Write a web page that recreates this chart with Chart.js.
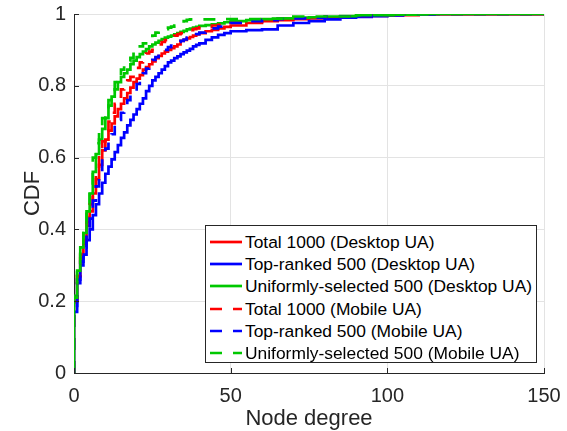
<!DOCTYPE html>
<html>
<head>
<meta charset="utf-8">
<script src="https://cdn.jsdelivr.net/npm/chart.js@4.4.1/dist/chart.umd.min.js"></script>
<style>
  html, body { margin: 0; padding: 0; background: #fff; }
  #wrap { position: relative; width: 567px; height: 431px; }
  #legend {
    position: absolute; left: 205px; top: 225px; width: 330px; height: 136px;
    border: 1px solid #262626; background: #fff;
    font-family: "Liberation Sans", Arial, sans-serif; font-size: 17.4px; color: #000;
  }
  .row { position: absolute; left: 0; height: 22px; line-height: 22px; white-space: nowrap; }
  .row svg { position: absolute; left: 4px; top: 9px; }
  .row span { position: absolute; left: 39px; top: 0; }
</style>
</head>
<body>
<div id="wrap">
  <canvas id="c1" width="567" height="431"></canvas>
  <div id="legend"></div>
</div>
<script>
// node degree at which each CDF value is read (first pair draws the jump at 0)
var degrees = [0, 0, 1, 2, 3, 4, 5, 6, 7, 8, 9, 10, 11, 12, 13, 14, 15, 16, 17, 18, 19, 20,
  21, 22, 23, 24, 25, 26, 27, 28, 29, 30, 31, 32, 33, 34, 35, 36, 37, 38, 39, 40,
  42, 44, 46, 48, 50, 55, 60, 65, 70, 75, 80, 85, 90, 95, 100, 105, 110, 115, 120, 150];

var totalDesktop = [0, 0.20, 0.27, 0.32, 0.36, 0.41, 0.45, 0.50, 0.54, 0.58, 0.62, 0.65, 0.675, 0.695, 0.715, 0.735,
  0.75, 0.765, 0.78, 0.795, 0.81, 0.82, 0.83, 0.845, 0.852, 0.86, 0.868, 0.877, 0.883, 0.89, 0.895, 0.9,
  0.905, 0.91, 0.915, 0.925, 0.928, 0.932, 0.936, 0.94, 0.943, 0.947,
  0.952, 0.956, 0.96, 0.964, 0.968, 0.975, 0.98, 0.983, 0.986, 0.988, 0.99, 0.992, 0.993, 0.995, 0.996, 0.997, 0.998, 0.999, 0.999, 1];

var topDesktop = [0, 0.17, 0.25, 0.30, 0.33, 0.37, 0.40, 0.44, 0.47, 0.50, 0.53, 0.555, 0.575, 0.595, 0.615, 0.635,
  0.655, 0.67, 0.69, 0.705, 0.72, 0.735, 0.75, 0.765, 0.785, 0.80, 0.815, 0.825, 0.835, 0.845, 0.855, 0.865,
  0.87, 0.877, 0.882, 0.888, 0.893, 0.898, 0.903, 0.91, 0.914, 0.918,
  0.928, 0.935, 0.942, 0.947, 0.952, 0.955, 0.957, 0.968, 0.975, 0.98, 0.985, 0.99, 0.992, 0.994, 0.996, 0.998, 0.999, 1, 1, 1];

var uniformDesktop = [0, 0.215, 0.285, 0.35, 0.39, 0.45, 0.50, 0.56, 0.61, 0.65, 0.68, 0.71, 0.745, 0.77, 0.79, 0.81,
  0.825, 0.835, 0.845, 0.86, 0.87, 0.88, 0.888, 0.895, 0.902, 0.91, 0.915, 0.92, 0.925, 0.93, 0.934, 0.937,
  0.94, 0.943, 0.947, 0.95, 0.953, 0.957, 0.959, 0.962, 0.964, 0.967,
  0.969, 0.971, 0.974, 0.977, 0.98, 0.983, 0.986, 0.988, 0.99, 0.991, 0.993, 0.994, 0.996, 0.997, 0.998, 0.999, 0.999, 1, 1, 1];

var totalMobile = [0, 0.20, 0.27, 0.33, 0.37, 0.42, 0.47, 0.52, 0.57, 0.61, 0.645, 0.675, 0.70, 0.725, 0.75, 0.77,
  0.79, 0.805, 0.815, 0.825, 0.835, 0.85, 0.865, 0.875, 0.89, 0.895, 0.9, 0.91, 0.915, 0.922, 0.927, 0.932,
  0.936, 0.94, 0.944, 0.947, 0.95, 0.953, 0.955, 0.958, 0.96, 0.963,
  0.965, 0.968, 0.97, 0.973, 0.975, 0.978, 0.983, 0.986, 0.988, 0.99, 0.992, 0.993, 0.995, 0.996, 0.997, 0.998, 0.999, 1, 1, 1];

var topMobile = [0, 0.18, 0.26, 0.31, 0.35, 0.39, 0.43, 0.48, 0.52, 0.56, 0.60, 0.625, 0.645, 0.665, 0.685, 0.705,
  0.725, 0.74, 0.76, 0.775, 0.79, 0.805, 0.82, 0.835, 0.848, 0.86, 0.872, 0.88, 0.887, 0.895, 0.9, 0.908,
  0.912, 0.918, 0.922, 0.925, 0.929, 0.934, 0.937, 0.94, 0.944, 0.948,
  0.953, 0.96, 0.965, 0.97, 0.975, 0.98, 0.983, 0.986, 0.988, 0.99, 0.992, 0.993, 0.995, 0.996, 0.997, 0.998, 0.999, 1, 1, 1];

var uniformMobile = [0, 0.21, 0.28, 0.34, 0.39, 0.46, 0.52, 0.60, 0.64, 0.68, 0.71, 0.735, 0.76, 0.785, 0.81, 0.826,
  0.845, 0.86, 0.868, 0.878, 0.893, 0.9, 0.91, 0.918, 0.925, 0.933, 0.94, 0.948, 0.951, 0.955, 0.958, 0.962,
  0.965, 0.968, 0.971, 0.975, 0.98, 0.984, 0.985, 0.985, 0.985, 0.985,
  0.985, 0.985, 0.986, 0.986, 0.986, 0.986, 0.987, 0.987, 0.993, 0.993, 0.993, 0.993, 0.997, 0.997, 0.997, 0.998, 1, 1, 1, 1];

var labels = ["Total 1000 (Desktop UA)", "Top-ranked 500 (Desktop UA)", "Uniformly-selected 500 (Desktop UA)",
  "Total 1000 (Mobile UA)", "Top-ranked 500 (Mobile UA)", "Uniformly-selected 500 (Mobile UA)"];
var values = [totalDesktop, topDesktop, uniformDesktop, totalMobile, topMobile, uniformMobile];
var colors = ["#ff0000", "#0000ff", "#00c800", "#ff0000", "#0000ff", "#00c800"];
var dashed = [false, false, false, true, true, true];

var font = "'Liberation Sans', Arial, Helvetica, sans-serif";
var axisColor = "#262626";
var dashPattern = [12, 11];

// MATLAB style ticks pointing into the plot
var innerTicks = {
  id: 'innerTicks',
  afterDatasetsDraw(chart) {
    let ctx = chart.ctx;
    let a = chart.chartArea;
    let x = chart.scales.x, y = chart.scales.y;
    ctx.save();
    ctx.strokeStyle = axisColor;
    ctx.lineWidth = 1;
    ctx.beginPath();
    x.ticks.forEach((t) => {
      let px = Math.round(x.getPixelForValue(t.value)) + 0.5;
      ctx.moveTo(px, a.bottom);
      ctx.lineTo(px, a.bottom - 5);
    });
    y.ticks.forEach((t) => {
      let py = Math.round(y.getPixelForValue(t.value)) + 0.5;
      ctx.moveTo(a.left, py);
      ctx.lineTo(a.left + 5, py);
    });
    ctx.stroke();
    ctx.restore();
  }
};

// keep the plot box where the reference has it, labels may overflow
function noOverflow(s) {
  s.paddingTop = 0;
  s.paddingBottom = 0;
  s.paddingLeft = 0;
  s.paddingRight = 0;
}

function start() {
  let datasets = [];
  for (let i = 0; i < labels.length; i++) {
    let pts = [];
    for (let k = 0; k < degrees.length; k++)
      pts.push({x: degrees[k], y: values[i][k]});
    datasets.push({
      label: labels[i],
      data: pts,
      borderColor: colors[i],
      backgroundColor: colors[i],
      borderWidth: 2.7,
      borderDash: dashed[i] ? dashPattern : [],
      pointRadius: 0,
      stepped: true,
      fill: false,
      order: labels.length - i
    });
  }

  new Chart(document.getElementById("c1"), {
    type: 'line',
    data: {datasets: datasets},
    options: {
      responsive: false,
      animation: false,
      devicePixelRatio: 1,
      layout: {padding: {top: 14, right: 23, left: 0, bottom: 0}},
      plugins: {legend: {display: false}, tooltip: {enabled: false}},
      scales: {
        x: {
          type: 'linear', min: 0, max: 150,
          ticks: {stepSize: 50, color: axisColor, font: {family: font, size: 20}, padding: 11, maxRotation: 0},
          grid: {color: '#e3e3e3', drawTicks: false},
          border: {color: axisColor, width: 1},
          title: {display: true, text: 'Node degree', color: axisColor, font: {family: font, size: 22}, padding: {top: 0, bottom: -1.5}},
          afterFit: (s) => { s.height = 58; noOverflow(s); }
        },
        y: {
          type: 'linear', min: 0, max: 1,
          ticks: {
            stepSize: 0.2, color: axisColor, font: {family: font, size: 20}, padding: 8,
            callback: (v) => String(Math.round(v * 10) / 10)
          },
          grid: {color: '#e3e3e3', drawTicks: false},
          border: {color: axisColor, width: 1},
          title: {display: true, text: 'CDF', color: axisColor, font: {family: font, size: 22}, padding: {top: 20, bottom: 0}},
          afterFit: (s) => { s.width = 74; noOverflow(s); }
        }
      }
    },
    plugins: [innerTicks]
  });

  // legend box drawn over the plot, lower right
  let legend = document.getElementById("legend");
  for (let i = 0; i < labels.length; i++) {
    let row = document.createElement("div");
    row.className = "row";
    row.style.top = (5 + i * 22.2) + "px";
    let dash = dashed[i] ? ' stroke-dasharray="' + dashPattern.join(' ') + '"' : '';
    row.innerHTML = '<svg width="33" height="4"><line x1="0" y1="2" x2="32" y2="2" stroke="' + colors[i] +
      '" stroke-width="2.7"' + dash + '/></svg><span>' + labels[i] + '</span>';
    legend.appendChild(row);
  }
}

start();
</script>
</body>
</html>
